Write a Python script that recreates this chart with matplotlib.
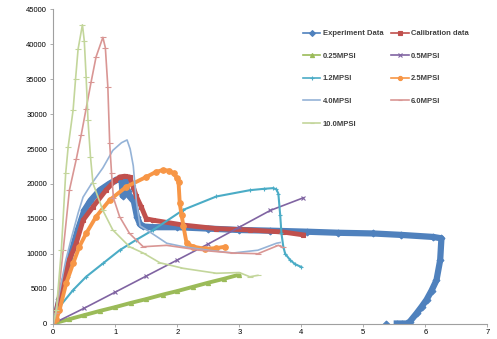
import numpy as np
import matplotlib.pyplot as plt
from matplotlib.lines import Line2D

plt.rcParams['font.family'] = ['Liberation Sans Narrow', 'Liberation Sans', 'DejaVu Sans']

# values (strain in x, stress in y)
exp_x = [0, 0.05, 0.1, 0.2, 0.3, 0.4, 0.5, 0.6, 0.75, 0.9, 1.0, 1.1, 1.12, 1.16, 1.2, 1.23,
         1.3, 1.35, 1.4, 1.45, 1.6, 2.0, 2.5, 3.0, 3.5, 4.1, 4.6, 5.16, 5.6, 6.13, 6.26, 6.24,
         6.18, 6.1, 6.02, 5.94, 5.86, 5.75, 5.7, 5.62, 5.54, np.nan, 5.36]
exp_y = [0, 1500, 3500, 6700, 10500, 13500, 16200, 17600, 19100, 20000, 20500, 20700, 18300,
         20500, 19000, 18200, 17500, 15300, 14200, 13900, 13800, 13800, 13600, 13400, 13300,
         13150, 13000, 12900, 12700, 12400, 12200, 9100, 6200, 4700, 3400, 2400, 1460, 260, 0,
         0, 0, np.nan, 0]

cal_x = [0, 0.05, 0.1, 0.2, 0.26, 0.37, 0.48, 0.64, 0.85, 1.0, 1.07, 1.15, 1.23, 1.29, 1.34,
         1.42, 1.5, 1.61, 2.1, 2.63, 3.17, 3.71, 4.03]
cal_y = [0, 1800, 3800, 7200, 9100, 11500, 14800, 16700, 19100, 20500, 21000, 21100, 21000,
         19600, 18200, 16700, 15000, 14800, 14100, 13600, 13400, 13100, 12700]

m025_x = [0, 0.25, 0.5, 0.75, 1.0, 1.25, 1.5, 1.77, 2.0, 2.25, 2.5, 2.75, 3.0]
m025_y = [0, 600, 1200, 1800, 2350, 2950, 3500, 4150, 4650, 5250, 5850, 6400, 7000]

m05_x = [0, 0.5, 1.0, 1.5, 2.0, 2.5, 3.0, 3.5, 4.03]
m05_y = [0, 2200, 4500, 6800, 9100, 11400, 13800, 16200, 18000]

m12_x = [0, 0.1, 0.32, 0.53, 0.8, 1.07, 1.34, 1.61, 2.1, 2.63, 3.17, 3.4, 3.55, 3.6, 3.63,
         3.66, 3.68, 3.71, 3.74, 3.82, 3.9, 4.0]
m12_y = [0, 2400, 4800, 6700, 8600, 10500, 12000, 13400, 16300, 18200, 19100, 19300, 19400,
         19200, 18600, 15500, 12900, 11000, 10000, 9100, 8500, 8100]

m25_x = [0, 0.05, 0.1, 0.21, 0.32, 0.42, 0.53, 0.69, 0.91, 1.18, 1.5, 1.65, 1.77, 1.87, 1.94,
         2.0, 2.02, 2.04, 2.07, 2.1, 2.15, 2.26, 2.45, 2.63, 2.77]
m25_y = [0, 600, 1900, 5800, 8600, 11000, 12900, 15300, 17700, 19600, 21000, 21700, 22000,
         21900, 21500, 20800, 20300, 17200, 15500, 13900, 11500, 11000, 10700, 10800, 11000]

m40_x = [0, 0.1, 0.2, 0.3, 0.4, 0.48, 0.6, 0.8, 0.96, 1.1, 1.19, 1.24, 1.29, 1.34, 1.4, 1.56,
         1.83, 2.1, 2.5, 2.9, 3.3, 3.6, 3.66]
m40_y = [0, 4500, 9000, 12500, 15800, 18100, 19800, 22300, 24800, 25900, 26300, 25000, 22600,
         17500, 14000, 13100, 11500, 11000, 10500, 10100, 10500, 11500, 11600]

m60_x = [0, 0.05, 0.16, 0.26, 0.37, 0.45, 0.53, 0.61, 0.69, 0.8, 0.84, 0.88, 0.91, 0.94, 0.97,
         1.07, 1.23, 1.45, 1.83, 2.37, 2.9, 3.3, 3.63, 3.7]
m60_y = [0, 1500, 10500, 19100, 23500, 27000, 30800, 34600, 38200, 41000, 39500, 33900, 25800,
         21500, 18000, 15300, 12900, 11000, 11200, 10500, 10100, 10000, 11200, 10900]

m100_x = [0, 0.05, 0.13, 0.2, 0.24, 0.32, 0.36, 0.4, 0.47, 0.5, 0.53, 0.56, 0.6, 0.64, 0.8,
          0.96, 1.23, 1.45, 1.72, 2.1, 2.63, 3.0, 3.17, 3.3]
m100_y = [0, 1900, 10500, 21500, 25300, 30600, 35100, 39300, 42800, 40500, 35300, 29100, 23900,
          20100, 16200, 13400, 11000, 10100, 8700, 7900, 7200, 7300, 6700, 6900]

series = [
    ('Experiment Data', exp_x, exp_y, '#4F81BD', 4.5, 'D', 3.5),
    ('Calibration data', cal_x, cal_y, '#C0504D', 3.5, 's', 3.5),
    ('0.25MPSI', m025_x, m025_y, '#9BBB59', 2.8, '^', 3),
    ('0.5MPSI', m05_x, m05_y, '#8064A2', 1.2, 'x', 3),
    ('1.2MPSI', m12_x, m12_y, '#4BACC6', 1.5, '+', 3),
    ('2.5MPSI', m25_x, m25_y, '#F79646', 2.8, 'o', 4),
    ('4.0MPSI', m40_x, m40_y, '#95B3D7', 1.2, '', 0),
    ('6.0MPSI', m60_x, m60_y, '#D99694', 1.2, '_', 4),
    ('10.0MPSI', m100_x, m100_y, '#C3D69B', 1.2, '_', 4),
]

fig = plt.figure(figsize=(4.97, 3.39), dpi=100)
ax = fig.add_axes([0.1072, 0.0457, 0.8733, 0.9265])

handles = []
for name, xs, ys, col, lw, mk, ms in series:
    ax.plot(xs, ys, color=col, lw=lw, marker=mk or None, ms=ms, mew=0.8)
    handles.append(Line2D([], [], color=col, lw=1.2, marker=mk or None, ms=3, mew=0.8, label=name))

ax.set_xlim(0, 7)
ax.set_ylim(0, 45000)
ax.set_xticks(range(0, 8))
ax.set_yticks(range(0, 45001, 5000))

for s in ['top', 'right']:
    ax.spines[s].set_visible(False)
for s in ['left', 'bottom']:
    ax.spines[s].set_color('#A0A0A0')
    ax.spines[s].set_linewidth(0.8)
ax.tick_params(axis='both', direction='out', length=2.5, width=0.6, color='#A0A0A0',
               labelsize=5.5, pad=2)
ax.tick_params(axis='x', pad=1.5)

# Excel fills legend rows first, matplotlib fills columns first
order = [handles[i] for i in (0, 2, 4, 6, 8, 1, 3, 5, 7)]
leg = ax.legend(handles=order, ncol=2, loc='upper left', bbox_to_anchor=(0.575, 0.935),
                frameon=False, fontsize=5.5, handlelength=2.3, handletextpad=0.3,
                labelspacing=2.0, columnspacing=1.0, borderaxespad=0, borderpad=0)
for t in leg.get_texts():
    t.set_fontweight('bold')
    t.set_color('#404040')

fig.savefig('out.png', dpi=100)
